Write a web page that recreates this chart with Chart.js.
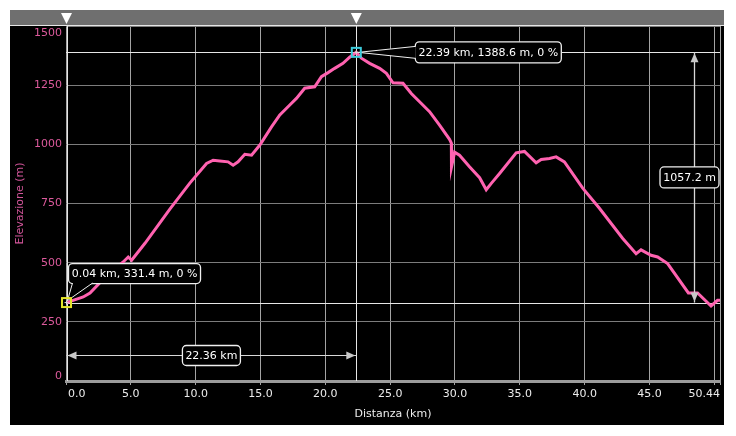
<!DOCTYPE html>
<html>
<head>
<meta charset="utf-8">
<script src="https://cdn.jsdelivr.net/npm/chart.js@4.4.1/dist/chart.umd.min.js"></script>
<style>
    html, body { margin: 0; padding: 0; background: #fff; }
    #wrap { width: 736px; height: 436px; }
</style>
</head>
<body>
<div id="wrap"><canvas id="profile" width="736" height="436"></canvas></div>
<script>
// Elevation profile
const distanceKm = [0.04, 1.33, 1.85, 3.08, 4.41, 4.80, 5.06, 6.09, 8.01, 9.55, 10.84, 11.35, 11.86, 12.50, 12.89, 13.27, 13.79, 14.31, 14.95, 15.85, 16.49, 17.26, 17.77, 18.41, 19.18, 19.70, 20.21, 20.72, 21.36, 21.88, 22.39, 22.78, 23.42, 24.19, 24.71, 25.22, 25.99, 26.63, 27.27, 28.04, 28.81, 29.58, 29.72, 29.73, 29.97, 30.35, 31.12, 31.90, 32.41, 32.80, 33.44, 34.72, 35.36, 36.26, 36.65, 37.29, 37.80, 38.44, 39.85, 41.14, 42.94, 43.97, 44.35, 45.12, 45.63, 46.40, 48.00, 48.71, 49.75, 50.25, 50.44];
const elevationM = [331.4, 355, 372, 442, 503, 524, 510, 582, 726, 836, 919, 933, 930, 926, 912, 926, 958, 954, 997, 1074, 1124, 1166, 1194, 1237, 1243, 1286, 1303, 1321, 1342, 1368, 1388.6, 1364, 1342, 1321, 1300, 1260, 1258, 1215, 1180, 1138, 1081, 1021, 1005, 904, 967, 954, 905, 859, 808, 835, 877, 964, 970, 922, 936, 940, 947, 926, 815, 730, 602, 538, 554, 531, 524, 496, 372, 372, 317, 341, 341];

const xTickValues = [0, 5, 10, 15, 20, 25, 30, 35, 40, 45, 50, 50.44];
const xTickLabels = ['0.0', '5.0', '10.0', '15.0', '20.0', '25.0', '30.0', '35.0', '40.0', '45.0', '', '50.44'];
const yTickValues = [0, 250, 500, 750, 1000, 1250, 1500];

// the two selected points and the measurement labels
const startPoint = { km: 0.04, m: 331.4, label: '0.04 km, 331.4 m, 0 %' };
const peakPoint = { km: 22.39, m: 1388.6, label: '22.39 km, 1388.6 m, 0 %' };
const distanceLabel = '22.36 km';
const climbLabel = '1057.2 m';

const FONT = '"DejaVu Sans", Verdana, sans-serif';

function roundBox(ctx, x, y, w, h, r) {
    ctx.beginPath();
    ctx.moveTo(x + r, y);
    ctx.arcTo(x + w, y, x + w, y + h, r);
    ctx.arcTo(x + w, y + h, x, y + h, r);
    ctx.arcTo(x, y + h, x, y, r);
    ctx.arcTo(x, y, x + w, y, r);
    ctx.closePath();
}

function labelBox(ctx, x, y, w, h, text) {
    roundBox(ctx, x, y, w, h, 4);
    ctx.fillStyle = '#000';
    ctx.fill();
    ctx.strokeStyle = '#f0f0f0';
    ctx.lineWidth = 1.3;
    ctx.stroke();
    ctx.fillStyle = '#fff';
    ctx.font = '11px ' + FONT;
    ctx.textAlign = 'center';
    ctx.textBaseline = 'middle';
    ctx.fillText(text, x + w / 2, y + h / 2 + 0.5);
}

// wedge from the box to the marked point
function wedge(ctx, a, b, tip) {
    ctx.beginPath();
    ctx.moveTo(a[0], a[1]);
    ctx.lineTo(tip[0], tip[1]);
    ctx.lineTo(b[0], b[1]);
    ctx.closePath();
    ctx.fillStyle = '#000';
    ctx.fill();
    ctx.beginPath();
    ctx.moveTo(a[0], a[1]);
    ctx.lineTo(tip[0], tip[1]);
    ctx.lineTo(b[0], b[1]);
    ctx.strokeStyle = '#f0f0f0';
    ctx.lineWidth = 1;
    ctx.stroke();
}

function arrowHead(ctx, x, y, dx, dy) {
    // tip at x,y pointing along dx,dy
    const len = 9, half = 4;
    ctx.beginPath();
    ctx.moveTo(x, y);
    ctx.lineTo(x - dx * len - dy * half, y - dy * len - dx * half);
    ctx.lineTo(x - dx * len + dy * half, y - dy * len + dx * half);
    ctx.closePath();
    ctx.fillStyle = '#c8c8c8';
    ctx.fill();
}

function marker(ctx, x, y, color) {
    ctx.strokeStyle = color;
    ctx.lineWidth = 2;
    ctx.strokeRect(x - 4.5, y - 4.5, 9, 9);
    ctx.strokeStyle = '#dddddd';
    ctx.lineWidth = 1;
    ctx.beginPath();
    ctx.moveTo(x - 2, y); ctx.lineTo(x + 2, y);
    ctx.moveTo(x, y - 2); ctx.lineTo(x, y + 2);
    ctx.stroke();
}

const profilePlugin = {
    id: 'profileDecor',
    beforeDraw(chart) {
        const ctx = chart.ctx;
        ctx.save();
        ctx.fillStyle = '#fff';
        ctx.fillRect(0, 0, chart.width, chart.height);
        ctx.fillStyle = '#000';
        ctx.fillRect(10, 10, 714, 415);
        // grey slider bar on top
        ctx.fillStyle = '#6f6f6f';
        ctx.fillRect(10, 10, 714, 15);
        ctx.restore();
    },
    beforeDatasetsDraw(chart) {
        const ctx = chart.ctx;
        const area = chart.chartArea;
        const xs = chart.scales.x, ys = chart.scales.y;
        const x0 = Math.round(xs.getPixelForValue(startPoint.km)) + 0.5;
        const x1 = Math.round(xs.getPixelForValue(peakPoint.km)) + 0.5;
        const y0 = Math.round(ys.getPixelForValue(startPoint.m)) + 0.5;
        const y1 = Math.round(ys.getPixelForValue(peakPoint.m)) + 0.5;
        ctx.save();
        ctx.strokeStyle = '#e6e6e6';
        ctx.lineWidth = 1;
        ctx.beginPath();
        ctx.moveTo(area.left, y1); ctx.lineTo(area.right, y1);
        ctx.moveTo(area.left, y0); ctx.lineTo(area.right, y0);
        ctx.moveTo(x0, area.top); ctx.lineTo(x0, area.bottom);
        ctx.moveTo(x1, area.top); ctx.lineTo(x1, area.bottom);
        ctx.moveTo(10, area.top - 0.5); ctx.lineTo(724, area.top - 0.5);
        ctx.stroke();
        ctx.restore();
    },
    afterDatasetsDraw(chart) {
        const ctx = chart.ctx;
        const area = chart.chartArea;
        const xs = chart.scales.x, ys = chart.scales.y;
        const x0 = xs.getPixelForValue(startPoint.km);
        const x1 = xs.getPixelForValue(peakPoint.km);
        const y0 = ys.getPixelForValue(startPoint.m);
        const y1 = ys.getPixelForValue(peakPoint.m);
        ctx.save();

        // tick labels, kept inside the plot edges
        ctx.font = '11px ' + FONT;
        ctx.textBaseline = 'middle';
        ctx.textAlign = 'right';
        ctx.fillStyle = '#dc5a9c';
        ys.ticks.forEach(t => {
            let py = ys.getPixelForValue(t.value);
            py = Math.min(Math.max(py, area.top + 7), area.bottom - 5);
            ctx.fillText(String(t.value), area.left - 4, py);
        });
        ctx.textAlign = 'left';
        ctx.fillStyle = '#ececec';
        xs.ticks.forEach((t, i) => {
            const text = xTickLabels[i];
            if (!text) return;
            const w = ctx.measureText(text).width;
            let lx = xs.getPixelForValue(t.value) - w / 2;
            lx = Math.min(Math.max(lx, area.left + 2), area.right - w);
            ctx.fillText(text, lx, area.bottom + 13);
        });

        // distance measure
        const ym = area.bottom - 25.5;
        ctx.strokeStyle = '#d8d8d8';
        ctx.lineWidth = 1;
        ctx.beginPath();
        ctx.moveTo(x0, ym); ctx.lineTo(x1, ym);
        ctx.stroke();
        arrowHead(ctx, x0 + 1, ym, -1, 0);
        arrowHead(ctx, x1 - 1, ym, 1, 0);
        labelBox(ctx, (x0 + x1) / 2 - 29, ym - 10, 58, 20, distanceLabel);

        // climb measure
        const xm = Math.round(area.right - 26) + 0.5;
        ctx.strokeStyle = '#d8d8d8';
        ctx.beginPath();
        ctx.moveTo(xm, y1); ctx.lineTo(xm, y0);
        ctx.stroke();
        arrowHead(ctx, xm, y1 + 1, 0, -1);
        arrowHead(ctx, xm, y0 - 1, 0, 1);
        labelBox(ctx, area.right - 60, (y0 + y1) / 2 - 10.5, 59, 21, climbLabel);

        // callouts
        labelBox(ctx, x0 + 2, y0 - 39, 132, 20, startPoint.label);
        wedge(ctx, [x0 + 6, y0 - 19.5], [x0 + 26, y0 - 19.5], [x0 + 1, y0 - 2]);
        labelBox(ctx, x1 + 59, y1 - 10.5, 146, 21, peakPoint.label);
        wedge(ctx, [x1 + 59.5, y1 - 6], [x1 + 59.5, y1 + 6], [x1 + 2, y1]);

        marker(ctx, x0, y0, '#e4e42a');
        marker(ctx, x1, y1, '#3ccbdc');

        // slider handles
        ctx.fillStyle = '#ffffff';
        [x0, x1].forEach(px => {
            ctx.beginPath();
            ctx.moveTo(px - 5.5, 13);
            ctx.lineTo(px + 5.5, 13);
            ctx.lineTo(px, 24);
            ctx.closePath();
            ctx.fill();
        });
        ctx.restore();
    }
};

new Chart(document.getElementById('profile'), {
    type: 'line',
    data: {
        datasets: [{
            data: distanceKm.map((d, i) => ({ x: d, y: elevationM[i] })),
            borderColor: '#ff62b0',
            borderWidth: 3,
            pointRadius: 0,
            tension: 0,
            fill: false,
        }],
    },
    plugins: [profilePlugin],
    options: {
        responsive: false,
        animation: false,
        events: [],
        layout: {
            padding: { left: 10, right: 16, top: 26, bottom: 11 }
        },
        plugins: {
            legend: { display: false },
            tooltip: { enabled: false },
        },
        scales: {
            x: {
                type: 'linear',
                min: 0,
                max: 50.44,
                afterBuildTicks: (scale) => {
                    scale.ticks = xTickValues.map(v => ({ value: v }));
                },
                afterFit: (scale) => { scale.height = 44; },
                ticks: { display: false },
                grid: { color: '#a4a4a4', lineWidth: 1, tickLength: 4 },
                border: { display: true, color: '#9c9c9c', width: 3 },
                title: {
                    display: true,
                    text: 'Distanza (km)',
                    color: '#ececec',
                    font: { family: FONT, size: 11 },
                    padding: { top: 2, bottom: 4 },
                },
            },
            y: {
                type: 'linear',
                min: 0,
                max: 1500,
                afterBuildTicks: (scale) => {
                    scale.ticks = yTickValues.map(v => ({ value: v }));
                },
                afterFit: (scale) => { scale.width = 56; },
                ticks: { display: false },
                grid: { color: '#7c7c7c', lineWidth: 1, drawTicks: false },
                border: { display: false },
                title: {
                    display: true,
                    text: 'Elevazione (m)',
                    color: '#d2559a',
                    font: { family: FONT, size: 11 },
                    padding: { top: 4, bottom: 4 },
                },
            },
        },
    },
});
</script>
</body>
</html>
